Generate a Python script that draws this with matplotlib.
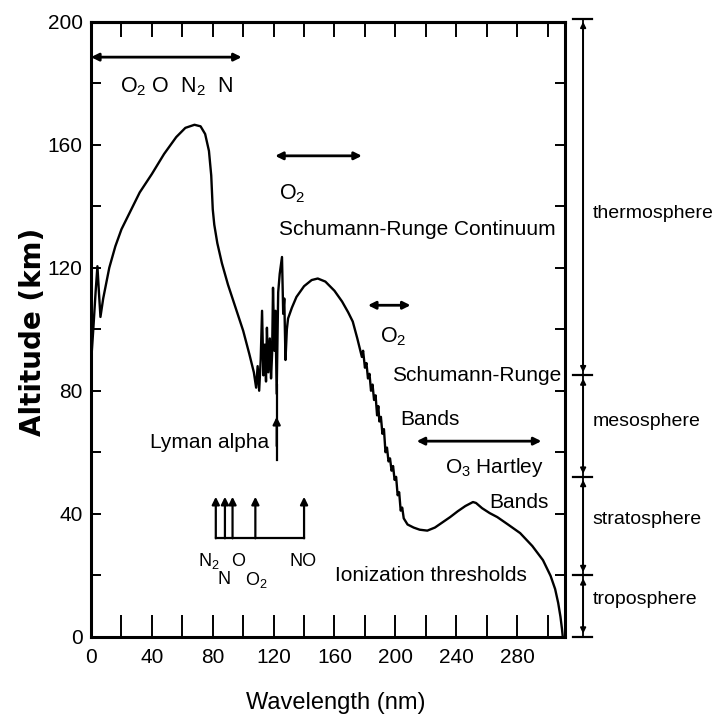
import matplotlib
matplotlib.use("Agg")
import matplotlib.pyplot as plt

plt.rcParams['font.family'] = ['Liberation Sans', 'DejaVu Sans']
plt.rcParams['mathtext.fontset'] = 'custom'
plt.rcParams['mathtext.rm'] = 'Liberation Sans'
plt.rcParams['mathtext.it'] = 'Liberation Sans'

#%% datos (longitud de onda en nm, altitud en km)
# tramo 1: hasta el minimo de ~108 nm
wl_1 = [0, 1.5, 3, 4.2, 5.2, 6.2, 8, 12, 16, 20, 26, 32, 40, 48, 56, 62, 68, 72]
alt_1 = [89, 100, 112, 120.5, 112, 104, 110, 120, 127, 132.5, 138.5, 144.5, 150.5, 157, 162.5, 165.5, 166.5, 166]
wl_2 = [75, 77.5, 79, 80, 81, 83, 86, 90, 95, 100, 104, 107, 108.5]
alt_2 = [163.5, 158, 150, 139, 134, 128, 121.5, 114.5, 107, 99.5, 92, 86, 81]
# tramo 2: zona con picos (108-130 nm)
wl_3 = [109.5, 110.5, 111.5, 112.4, 113.3, 114.2, 115, 115.6, 116.5, 117.5, 118.3, 119]
alt_3 = [88, 80, 90, 106, 85, 95, 83, 100.5, 86, 97, 84, 92]
wl_4 = [119.6, 120.5, 121.2, 122, 123, 124, 125.5, 126.3, 127, 127.8, 128.7, 129.5]
alt_4 = [113.5, 93, 106, 79, 112, 118, 123.5, 105, 110, 90, 100, 103.5]
# tramo 3: continuo
wl_5 = [132, 135, 140, 145, 149, 154, 160, 165, 169, 172, 175, 177]
alt_5 = [107, 110.5, 114, 116, 116.5, 115.5, 112.5, 109, 105.5, 102.5, 97, 93]
# tramo 4: bandas de Schumann-Runge (dientes)
wl_6 = [178, 178.8, 180, 181, 182, 183, 184, 185, 186, 187, 188, 188.8, 189.5, 190.5]
alt_6 = [91, 93, 87.5, 89, 84, 85.5, 80, 82, 77, 78.5, 72, 75, 70, 71.5]
wl_7 = [191.5, 192.5, 193.5, 194.5, 195.5, 196.5, 197.5, 198.5, 199.5, 200.5, 201.5, 202.5, 203.5, 204.5, 205.5]
alt_7 = [66, 67.5, 60, 61.5, 57, 58, 54, 55.5, 51, 52, 46, 47, 41, 42, 38.5]
# tramo 5: Hartley y troposfera
wl_8 = [208, 212, 216, 221, 226, 231, 236, 241, 246, 251, 253, 257, 262, 267]
alt_8 = [36.5, 35.5, 34.8, 34.5, 35.5, 37.2, 38.9, 40.8, 42.5, 43.8, 43.5, 41.8, 40.2, 38.9]
wl_9 = [274, 282, 290, 297, 302, 305, 307, 308.5, 309.5, 310]
alt_9 = [36.5, 33.7, 29.5, 24.9, 19.8, 15.5, 11, 6.5, 2.5, 0]

wl = wl_1 + wl_2 + wl_3 + wl_4 + wl_5 + wl_6 + wl_7 + wl_8 + wl_9
alt = alt_1 + alt_2 + alt_3 + alt_4 + alt_5 + alt_6 + alt_7 + alt_8 + alt_9

# umbrales de ionizacion
ion_x = [82, 88, 93, 108, 140]
ion_lbl = ['N$_\\mathrm{2}$', 'N', 'O', 'O$_\\mathrm{2}$', 'NO']
ion_lbl_x = [77.5, 87.5, 96.5, 108.5, 139.5]
ion_lbl_y = [24.6, 18.5, 24.6, 18.5, 24.6]

# capas de la atmosfera
capas_lim = [201, 85, 52, 20, 0]
capas = ['thermosphere', 'mesosphere', 'stratosphere', 'troposphere']
capas_y = [137.5, 70, 38, 12]

x_ticks = [0, 40, 80, 120, 160, 200, 240, 280]
y_ticks = [0, 40, 80, 120, 160, 200]

#%%
fig = plt.figure(figsize=(7.27, 7.26), dpi=100)
ax = fig.add_axes([0.1252, 0.123, 0.652, 0.847])

ax.plot(wl, alt, 'k', lw=1.7)

ax.set_xlim(0, 311.5)
ax.set_ylim(0, 200)
ax.set_xticks(x_ticks)
ax.set_xticks(range(0, 311, 20), minor=True)
ax.set_yticks(y_ticks)
ax.set_yticks(range(0, 201, 20), minor=True)
ax.tick_params(axis='x', which='both', direction='in', length=16, width=1.4,
               labelsize=15, pad=8)
ax.tick_params(axis='y', which='both', direction='in', length=7, width=1.4,
               labelsize=15, pad=6, right=True)
for s in ax.spines.values():
    s.set_linewidth(2.2)

top = ax.secondary_xaxis('top')
top.set_xticks(range(0, 311, 20))
top.tick_params(direction='in', length=11, width=1.4, labeltop=False)
top.spines['top'].set_linewidth(2.2)

ax.set_xlabel('Wavelength (nm)', fontsize=17, va='center')
ax.xaxis.set_label_coords(0.517, -0.108)
ax.set_ylabel('Altitude (km)', fontsize=20, fontweight='bold',
              family='DejaVu Sans', va='center')
ax.yaxis.set_label_coords(-0.122, 0.495)

flecha = dict(arrowstyle='<|-|>', color='k', lw=2, mutation_scale=11,
              shrinkA=0, shrinkB=0)
una = dict(arrowstyle='-|>', color='k', lw=1.6, mutation_scale=11,
           shrinkA=0, shrinkB=0)

# flechas de absorcion
ax.annotate('', xy=(0, 188.5), xytext=(99, 188.5), arrowprops=flecha)
ax.text(56, 179, 'O$_\\mathrm{2}$ O  N$_\\mathrm{2}$  N', fontsize=15.5,
        ha='center', va='center')
ax.annotate('', xy=(121, 156.4), xytext=(178, 156.4), arrowprops=flecha)
ax.text(123.5, 144, 'O$_\\mathrm{2}$', fontsize=15.5, ha='left', va='center')
ax.text(123.5, 132.5, 'Schumann-Runge Continuum', fontsize=15, ha='left',
        va='center')
ax.annotate('', xy=(182, 107.8), xytext=(210, 107.8), arrowprops=flecha)
ax.text(190, 97.5, 'O$_\\mathrm{2}$', fontsize=15.5, ha='left', va='center')
ax.text(198, 85, 'Schumann-Runge', fontsize=15, ha='left', va='center')
ax.text(203, 70.5, 'Bands', fontsize=15, ha='left', va='center')
ax.annotate('', xy=(214, 63.6), xytext=(296, 63.6), arrowprops=flecha)
ax.text(297.5, 55, 'O$_\\mathrm{3}$ Hartley', fontsize=15, ha='right',
        va='center')
ax.text(300.5, 43.8, 'Bands', fontsize=15, ha='right', va='center')

# Lyman alpha
ax.plot([122, 122], [57.5, 82], 'k', lw=1.6)
ax.annotate('', xy=(122, 71.5), xytext=(122, 62), arrowprops=una)
ax.text(117, 63.3, 'Lyman alpha', fontsize=15, ha='right', va='center')

# umbrales
ax.plot([ion_x[0], ion_x[-1]], [32, 32], 'k', lw=1.6)
for xx in ion_x:
    ax.annotate('', xy=(xx, 45.5), xytext=(xx, 32), arrowprops=una)
for lb, xx, yy in zip(ion_lbl, ion_lbl_x, ion_lbl_y):
    ax.text(xx, yy, lb, fontsize=13, ha='center', va='center')
ax.text(160.5, 20, 'Ionization thresholds', fontsize=15, ha='left',
        va='center')

# capas a la derecha
xb = 323.4
ax.plot([xb, xb], [capas_lim[0], capas_lim[-1]], 'k', lw=1.3, clip_on=False)
for yy in capas_lim:
    ax.plot([317, 329], [yy, yy], 'k', lw=1.6, clip_on=False)
for y1, y2 in zip(capas_lim[:-1], capas_lim[1:]):
    ax.annotate('', xy=(xb, y1 - 1), xytext=(xb, y2 + 1), arrowprops=dict(
        arrowstyle='<|-|>', color='k', lw=1.3, mutation_scale=8,
        shrinkA=0, shrinkB=0), annotation_clip=False)
for nom, yy in zip(capas, capas_y):
    ax.text(329.5, yy, nom, fontsize=14, ha='left', va='center',
            clip_on=False)

fig.savefig('out.png', dpi=100)
